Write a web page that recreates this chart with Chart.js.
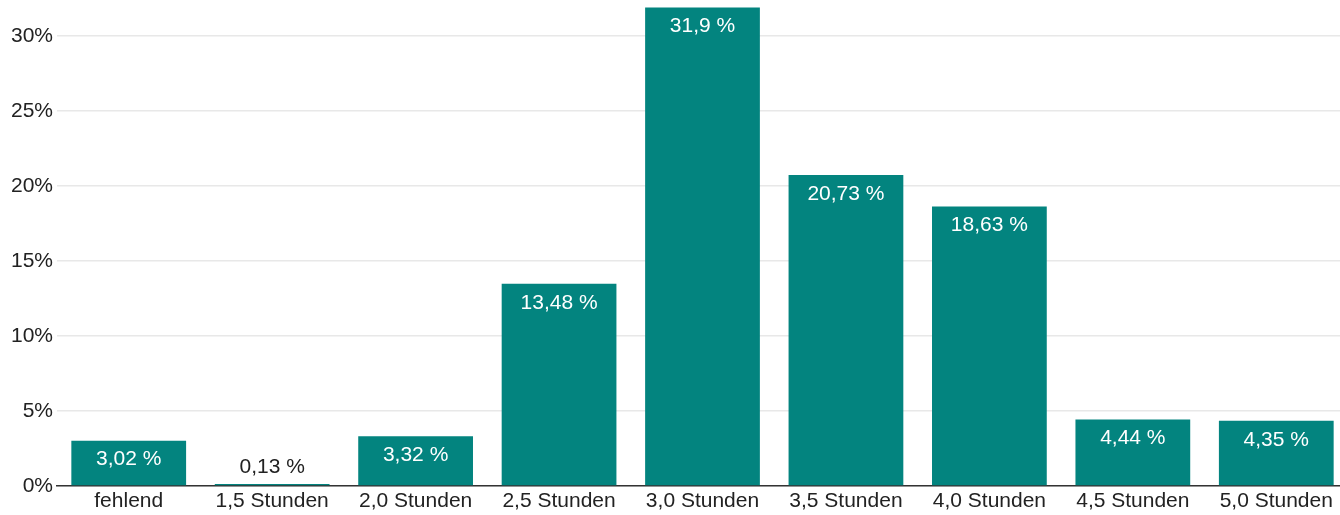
<!DOCTYPE html>
<html>
<head>
<meta charset="utf-8">
<script src="https://cdn.jsdelivr.net/npm/chart.js@4"></script>
<style>
html,body{margin:0;padding:0;background:#fff;overflow:hidden;}
#wrap{position:relative;width:1348px;height:515px;}
</style>
</head>
<body>
<div id="wrap"><canvas id="c"></canvas></div>
<script>
const categories = ["fehlend","1,5 Stunden","2,0 Stunden","2,5 Stunden","3,0 Stunden","3,5 Stunden","4,0 Stunden","4,5 Stunden","5,0 Stunden"];
const values = [3.02, 0.13, 3.32, 13.48, 31.9, 20.73, 18.63, 4.44, 4.35];
const yTicks = [0, 5, 10, 15, 20, 25, 30];

const FONT = "'Liberation Sans', Arial, sans-serif";
const BAR = '#03847f';

const labelPlugin = {
  id: 'valLabels',
  afterDatasetsDraw(chart) {
    const ctx = chart.ctx;
    const meta = chart.getDatasetMeta(0);
    ctx.save();
    ctx.font = '21px ' + FONT;
    ctx.textAlign = 'center';
    ctx.textBaseline = 'middle';
    meta.data.forEach((bar, i) => {
      const txt = String(values[i]).replace('.', ',') + ' %';
      const h = bar.base - bar.y;
      if (h > 30) {
        ctx.fillStyle = '#ffffff';
        ctx.fillText(txt, bar.x, bar.y + 19);
      } else {
        ctx.fillStyle = '#222222';
        ctx.fillText(txt, bar.x, bar.y - 17);
      }
    });
    ctx.restore();
  }
};

new Chart(document.getElementById('c'), {
  type: 'bar',
  data: {
    labels: categories,
    datasets: [{
      data: values,
      backgroundColor: BAR,
      borderWidth: 0,
      categoryPercentage: 1.0,
      barPercentage: 0.8
    }]
  },
  options: {
    responsive: true,
    maintainAspectRatio: false,
    animation: false,
    layout: { padding: 0 },
    plugins: { legend: { display: false }, tooltip: { enabled: false } },
    scales: {
      x: {
        grid: { display: false, drawTicks: false },
        border: { display: true, color: '#333333', width: 1.5 },
        ticks: { color: '#222222', font: { family: FONT, size: 21 }, padding: 3, maxRotation: 0, autoSkip: false },
        afterFit(s) { s.height = 29; s.paddingLeft = 0; s.paddingRight = 0; }
      },
      y: {
        min: 0,
        max: 32.4,
        afterBuildTicks(s) { s.ticks = yTicks.map(v => ({ value: v })); },
        grid: { color: '#e8e8e8', lineWidth: 1.5, drawTicks: false },
        border: { display: false },
        ticks: {
          color: '#222222',
          font: { family: FONT, size: 21 },
          padding: 4,
          callback: v => v + '%'
        },
        afterFit(s) { s.width = 57; s.paddingTop = 0; s.paddingBottom = 0; }
      }
    }
  },
  plugins: [labelPlugin]
});
</script>
</body>
</html>
